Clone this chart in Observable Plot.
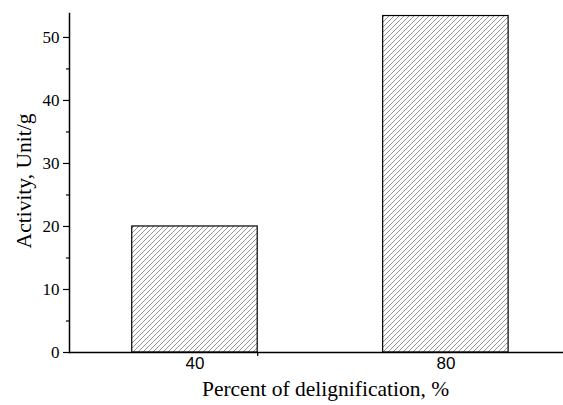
<!DOCTYPE html>
<html>
<head>
<meta charset="utf-8">
<script src="https://cdn.jsdelivr.net/npm/d3@7"></script>
<script src="https://cdn.jsdelivr.net/npm/@observablehq/plot@0.6"></script>
<style>
  html, body { margin: 0; padding: 0; background: white; }
</style>
</head>
<body>
<div id="chart"></div>
<script>
const categories = [40, 80];
const activity = [20, 53.4];
const xTickLabels = ["40", "80"];
const xMinorTicks = [50];
const yMajorTicks = [0, 10, 20, 30, 40, 50];
const yMinorTicks = [5, 15, 25, 35, 45];
const yLabel = "Activity, Unit/g";
const xLabel = "Percent of delignification, %";

const data = categories.map((c, i) => ({cat: c, value: activity[i]}));

const svg = Plot.plot({
  width: 563,
  height: 405,
  marginLeft: 69,
  marginRight: 0,
  marginTop: 13,
  marginBottom: 53,
  x: {type: "linear", domain: [20, 98.75], axis: null},
  y: {domain: [0, 53.8], axis: null},
  style: {fontFamily: "Liberation Serif", background: "white", color: "black"},
  marks: [
    Plot.rectY(data, {x1: d => d.cat - 10, x2: d => d.cat + 10, y: "value", fill: "url(#hatch)", stroke: "black", strokeWidth: 1.2}),
    Plot.ruleY([0], {stroke: "black", strokeWidth: 1.5}),
    Plot.frame({anchor: "left", stroke: "black", strokeWidth: 1.5}),
    Plot.axisY({ticks: yMajorTicks, tickSize: 6, tickFormat: () => "", label: null, strokeWidth: 1.2}),
    Plot.axisY({ticks: yMinorTicks, tickSize: 3, tickFormat: () => "", label: null, strokeWidth: 1.2}),
    Plot.axisX({ticks: xMinorTicks, tickSize: 4, tickFormat: () => "", label: null, strokeWidth: 1.2}),
    Plot.text(yMajorTicks, {y: d => d, text: d => String(d), frameAnchor: "left", textAnchor: "end", dx: -10, fontSize: 17, fontFamily: "Liberation Serif"}),
    Plot.text(categories, {x: d => d, text: d => xTickLabels[categories.indexOf(d)], frameAnchor: "bottom", dy: 16, fontSize: 17, fontFamily: "Liberation Sans"}),
    Plot.text([yLabel], {text: d => d, frameAnchor: "left", textAnchor: "middle", rotate: -90, dx: -45, dy: -2, fontSize: 21.5, fontFamily: "Liberation Serif"}),
    Plot.text([xLabel], {text: d => d, frameAnchor: "bottom", textAnchor: "middle", dy: 43, dx: 9, fontSize: 21.5, fontFamily: "Liberation Serif"})
  ]
});

const defs = d3.select(svg).insert("defs", ":first-child");
const pat = defs.append("pattern")
  .attr("id", "hatch")
  .attr("patternUnits", "userSpaceOnUse")
  .attr("width", 5)
  .attr("height", 5);
pat.append("rect").attr("width", 5).attr("height", 5).attr("fill", "white");
pat.append("path")
  .attr("d", "M0,5 L5,0 M-1,1 L1,-1 M4,6 L6,4")
  .attr("stroke", "#888")
  .attr("stroke-width", 0.9);

document.getElementById("chart").appendChild(svg);
</script>
</body>
</html>
